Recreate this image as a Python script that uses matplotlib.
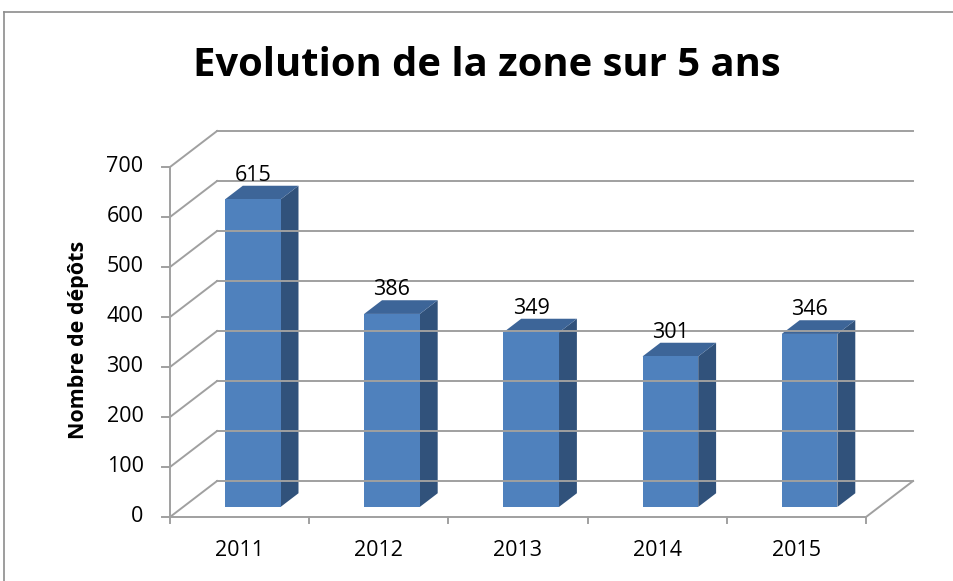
import matplotlib.pyplot as plt
from matplotlib.patches import Polygon
from matplotlib.lines import Line2D

plt.rcParams['font.family'] = ['Open Sans', 'DejaVu Sans']

years = ['2011', '2012', '2013', '2014', '2015']
depots = [615, 386, 349, 301, 346]
y_ticks = [0, 100, 200, 300, 400, 500, 600, 700]

# pseudo 3d: how far the back wall sits, in data units
dep_x, dep_y = 0.338, 72
bar_w = 0.4
bar_front, bar_back = 0.28, 0.66   # depth fractions of bar faces

grid_col = '#a0a0a0'
front_col = '#4f81bd'
side_col = '#31527b'
top_col = '#3d6598'

fig = plt.figure(figsize=(9.54, 5.81), dpi=100)
# outer frame (right/bottom are cut off in the reference)
fig.add_artist(Line2D([4/954, 4/954], [0, 1 - 12/581], color='#8c8c8c', lw=1.2))
fig.add_artist(Line2D([4/954, 1], [1 - 12/581, 1 - 12/581], color='#8c8c8c', lw=1.2))

ax = fig.add_axes([170/954, 64/581, 696/954, 350/581])
ax.set_xlim(0, len(years))
ax.set_ylim(0, 700)
ax.axis('off')

n = len(years)
# back wall gridlines + diagonal connectors
for v in y_ticks:
    ax.plot([dep_x, n + dep_x], [v + dep_y, v + dep_y], color=grid_col, lw=1.4, clip_on=False)
    ax.plot([0, dep_x], [v, v + dep_y], color=grid_col, lw=1.4, clip_on=False)
    ax.plot([-0.06, 0], [v, v], color=grid_col, lw=1.4, clip_on=False)
    ax.text(-0.19, v, str(v), ha='right', va='center', fontsize=15.5)

# floor
ax.plot([0, n], [0, 0], color=grid_col, lw=1.4, clip_on=False)
ax.plot([n, n + dep_x], [0, dep_y], color=grid_col, lw=1.4, clip_on=False)
ax.plot([0, 0], [0, 700], color=grid_col, lw=1.4, clip_on=False)
for i in range(n + 1):
    ax.plot([i, i], [0, -12], color=grid_col, lw=1.4, clip_on=False)

for i, (yr, val) in enumerate(zip(years, depots)):
    fx = i + 0.5 - bar_w / 2 + bar_front * dep_x
    fy = bar_front * dep_y
    sx = (bar_back - bar_front) * dep_x
    sy = (bar_back - bar_front) * dep_y
    front = [(fx, fy), (fx + bar_w, fy), (fx + bar_w, fy + val), (fx, fy + val)]
    side = [(fx + bar_w, fy), (fx + bar_w + sx, fy + sy),
            (fx + bar_w + sx, fy + sy + val), (fx + bar_w, fy + val)]
    top = [(fx, fy + val), (fx + bar_w, fy + val),
           (fx + bar_w + sx, fy + sy + val), (fx + sx, fy + sy + val)]
    for pts, c in ((side, side_col), (top, top_col), (front, front_col)):
        ax.add_patch(Polygon(pts, closed=True, facecolor=c, edgecolor='none', clip_on=False))
    ax.text(fx + bar_w / 2, val + fy + sy + 21, str(val), ha='center', va='center', fontsize=15.5)
    ax.text(i + 0.5, -66, yr, ha='center', va='center', fontsize=15.5)

fig.text(79/954, 1 - 340/581, 'Nombre de dépôts', rotation=90, ha='center', va='center',
         fontsize=15.5, fontweight='bold')
fig.text(487/954, 1 - 65/581, 'Evolution de la zone sur 5 ans', ha='center', va='center',
         fontsize=28.8, fontweight='bold')

fig.savefig('out.png', dpi=100)
